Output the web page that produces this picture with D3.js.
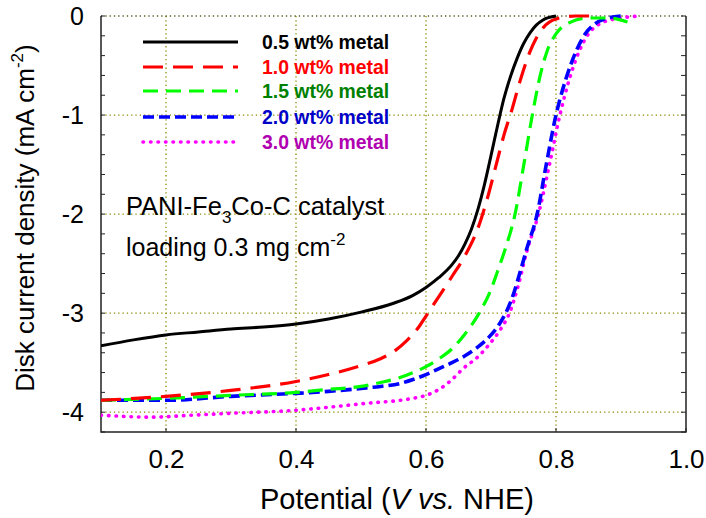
<!DOCTYPE html>
<html>
<head>
<meta charset="utf-8">
<script src="https://cdn.jsdelivr.net/npm/d3@7"></script>
<style>
  body { margin: 0; background: #fff; }
  text { font-family: "Liberation Sans", Arial, sans-serif; }
</style>
</head>
<body>
<div id="chart"></div>
<script>
// Series data: [potential (V vs NHE), disk current density (mA cm-2)]
var metal05 = [[0.10,-3.33],[0.15,-3.27],[0.20,-3.22],[0.25,-3.19],[0.30,-3.16],[0.35,-3.14],[0.40,-3.11],[0.45,-3.06],[0.50,-2.99],[0.55,-2.90],[0.58,-2.82],[0.60,-2.74],[0.62,-2.64],[0.64,-2.51],[0.65,-2.42],[0.66,-2.30],[0.67,-2.15],[0.68,-1.95],[0.69,-1.70],[0.70,-1.41],[0.711,-1.08],[0.72,-0.83],[0.73,-0.61],[0.74,-0.43],[0.75,-0.28],[0.76,-0.17],[0.77,-0.09],[0.78,-0.04],[0.80,0.00]];
var metal10 = [[0.10,-3.88],[0.20,-3.84],[0.30,-3.78],[0.40,-3.69],[0.45,-3.62],[0.50,-3.53],[0.53,-3.46],[0.55,-3.39],[0.57,-3.28],[0.59,-3.13],[0.60,-3.03],[0.62,-2.83],[0.64,-2.63],[0.66,-2.42],[0.68,-2.14],[0.694,-1.85],[0.71,-1.45],[0.72,-1.20],[0.732,-0.95],[0.745,-0.65],[0.76,-0.36],[0.77,-0.22],[0.78,-0.12],[0.80,-0.03],[0.83,0.00],[0.86,0.00]];
var metal15 = [[0.10,-3.88],[0.20,-3.86],[0.30,-3.83],[0.40,-3.80],[0.45,-3.77],[0.50,-3.74],[0.53,-3.70],[0.56,-3.65],[0.58,-3.60],[0.60,-3.54],[0.62,-3.46],[0.64,-3.36],[0.66,-3.21],[0.68,-3.02],[0.70,-2.76],[0.71,-2.58],[0.722,-2.35],[0.737,-2.00],[0.75,-1.52],[0.763,-1.02],[0.775,-0.62],[0.786,-0.36],[0.80,-0.18],[0.82,-0.07],[0.85,-0.02],[0.88,-0.02],[0.91,-0.06]];
var metal20 = [[0.10,-3.88],[0.20,-3.88],[0.30,-3.84],[0.40,-3.81],[0.45,-3.79],[0.50,-3.76],[0.53,-3.74],[0.56,-3.71],[0.58,-3.67],[0.60,-3.62],[0.62,-3.56],[0.64,-3.50],[0.66,-3.43],[0.678,-3.35],[0.70,-3.22],[0.712,-3.12],[0.724,-2.98],[0.735,-2.80],[0.745,-2.58],[0.755,-2.35],[0.771,-2.00],[0.785,-1.50],[0.80,-1.00],[0.815,-0.64],[0.832,-0.34],[0.845,-0.18],[0.86,-0.08],[0.88,-0.02],[0.90,0.00]];
var metal30 = [[0.10,-4.03],[0.177,-4.05],[0.24,-4.03],[0.303,-4.01],[0.40,-3.98],[0.45,-3.95],[0.509,-3.91],[0.56,-3.88],[0.58,-3.86],[0.60,-3.83],[0.62,-3.77],[0.64,-3.67],[0.657,-3.56],[0.68,-3.44],[0.698,-3.31],[0.715,-3.16],[0.729,-2.99],[0.742,-2.72],[0.755,-2.38],[0.773,-2.00],[0.79,-1.50],[0.806,-1.00],[0.82,-0.65],[0.836,-0.35],[0.85,-0.18],[0.87,-0.07],[0.90,-0.02],[0.93,0.00]];

var seriesLabels = ["0.5 wt% metal", "1.0 wt% metal", "1.5 wt% metal", "2.0 wt% metal", "3.0 wt% metal"];
var xTicks = [0.2, 0.4, 0.6, 0.8, 1.0];
var yTicks = [0, -1, -2, -3, -4];

// Series styles
var styles = [
  {line: "#000000", text: "#000000", dash: null, width: 3, cap: "butt"},
  {line: "#ff0000", text: "#ff0000", dash: "20,10", width: 3.2, cap: "butt"},
  {line: "#00ff00", text: "#008000", dash: "15,8", width: 3.2, cap: "butt"},
  {line: "#0000ff", text: "#0000c8", dash: "11,5", width: 3.6, cap: "butt"},
  {line: "#ff00ff", text: "#b000b0", dash: "0.5,7", width: 3.6, cap: "round"}
];
var allSeries = [metal05, metal10, metal15, metal20, metal30];

// Define SVG
var svgWidth = 706;
var svgHeight = 518;

var margin = {top: 16, right: 20, bottom: 86, left: 101};
var chartWidth = svgWidth - margin.left - margin.right;
var chartHeight = svgHeight - margin.top - margin.bottom;

var svg = d3.select("#chart")
  .append("svg")
  .attr("width", svgWidth)
  .attr("height", svgHeight);

var chartGroup = svg.append("g")
  .attr("transform", `translate(${margin.left}, ${margin.top})`);

// Scales
var xScale = d3.scaleLinear().domain([0.1, 1.0]).range([0, chartWidth]);
var yScale = d3.scaleLinear().domain([-4.2, 0]).range([chartHeight, 0]);

// Dotted grid
var gridColor = "#8a8a00";
chartGroup.selectAll("line.xgrid")
  .data(xTicks.filter(d => d < 1.0))
  .enter().append("line")
  .attr("x1", d => xScale(d)).attr("x2", d => xScale(d))
  .attr("y1", 0).attr("y2", chartHeight)
  .attr("stroke", gridColor)
  .attr("stroke-width", 1.3)
  .attr("stroke-dasharray", "1.3,3");

chartGroup.selectAll("line.ygrid")
  .data(yTicks)
  .enter().append("line")
  .attr("x1", 0).attr("x2", chartWidth)
  .attr("y1", d => yScale(d)).attr("y2", d => yScale(d))
  .attr("stroke", d => d === 0 ? "#5a5a20" : gridColor)
  .attr("stroke-width", d => d === 0 ? 1.6 : 1.3)
  .attr("stroke-dasharray", "1.3,3");

// Axes (labels only, ticks drawn inward below)
var fmtY = d => d === 0 ? "0" : "-" + Math.abs(d);
chartGroup.append("g")
  .attr("transform", `translate(0, ${chartHeight})`)
  .call(d3.axisBottom(xScale).tickValues(xTicks).tickSize(0).tickFormat(d3.format(".1f")).tickPadding(18))
  .call(g => g.select(".domain").remove())
  .call(g => g.selectAll("text").attr("font-size", 26).attr("fill", "#000")
    .attr("font-family", "'Liberation Sans', Arial, sans-serif"));

chartGroup.append("g")
  .call(d3.axisLeft(yScale).tickValues(yTicks).tickSize(0).tickFormat(fmtY).tickPadding(17))
  .call(g => g.select(".domain").remove())
  .call(g => g.selectAll("text").attr("font-size", 25).attr("fill", "#000")
    .attr("font-family", "'Liberation Sans', Arial, sans-serif"));

// Minor ticks on left and right
var minorY = d3.range(-4.2, 0.01, 0.2);
chartGroup.selectAll("line.ltick")
  .data(minorY)
  .enter().append("line")
  .attr("x1", 0).attr("x2", 4)
  .attr("y1", d => yScale(d)).attr("y2", d => yScale(d))
  .attr("stroke", "#222").attr("stroke-width", 1);
chartGroup.selectAll("line.rtick")
  .data(minorY)
  .enter().append("line")
  .attr("x1", chartWidth - 5).attr("x2", chartWidth)
  .attr("y1", d => yScale(d)).attr("y2", d => yScale(d))
  .attr("stroke", "#222").attr("stroke-width", 1);
chartGroup.selectAll("line.btick")
  .data(xTicks)
  .enter().append("line")
  .attr("x1", d => xScale(d)).attr("x2", d => xScale(d))
  .attr("y1", chartHeight - 4).attr("y2", chartHeight)
  .attr("stroke", "#222").attr("stroke-width", 1);

// Frame (left, bottom, right)
chartGroup.append("path")
  .attr("d", `M0,0V${chartHeight}H${chartWidth}V0`)
  .attr("fill", "none")
  .attr("stroke", "#222")
  .attr("stroke-width", 1.5);

// Curves
var line = d3.line()
  .x(d => xScale(d[0]))
  .y(d => yScale(d[1]))
  .curve(d3.curveMonotoneX);

chartGroup.append("clipPath").attr("id", "plotclip")
  .append("rect").attr("x", 0).attr("y", -3).attr("width", chartWidth).attr("height", chartHeight + 3);

allSeries.slice().reverse().forEach(function(data, i) {
  var s = styles[allSeries.length - 1 - i];
  chartGroup.append("path")
    .datum(data)
    .attr("clip-path", "url(#plotclip)")
    .attr("d", line)
    .attr("fill", "none")
    .attr("stroke", s.line)
    .attr("stroke-width", s.width)
    .attr("stroke-linecap", s.cap)
    .attr("stroke-dasharray", s.dash);
});

// Legend
var legendRows = [42, 67, 91, 117, 142];
var legend = svg.append("g");
seriesLabels.forEach(function(label, i) {
  var s = styles[i];
  legend.append("line")
    .attr("x1", 143).attr("x2", 238)
    .attr("y1", legendRows[i]).attr("y2", legendRows[i])
    .attr("stroke", s.line)
    .attr("stroke-width", s.width)
    .attr("stroke-linecap", s.cap)
    .attr("stroke-dasharray", s.dash);
  legend.append("text")
    .attr("x", 262)
    .attr("y", legendRows[i] + 7)
    .attr("font-size", 19.4)
    .attr("font-weight", "bold")
    .attr("fill", s.text)
    .text(label);
});

// Annotation
var note1 = svg.append("text").attr("x", 126).attr("y", 215).attr("font-size", 25.5).attr("fill", "#000");
note1.append("tspan").text("PANI-Fe");
note1.append("tspan").attr("font-size", 17).attr("dy", 8).text("3");
note1.append("tspan").attr("dy", -8).text("Co-C catalyst");

var note2 = svg.append("text").attr("x", 126).attr("y", 256).attr("font-size", 25).attr("fill", "#000");
note2.append("tspan").text("loading 0.3 mg cm");
note2.append("tspan").attr("font-size", 17).attr("dy", -11).text("-2");

// X axis title
var xTitle = svg.append("text")
  .attr("x", 397)
  .attr("y", 509)
  .attr("text-anchor", "middle")
  .attr("font-size", 29)
  .attr("fill", "#000");
xTitle.append("tspan").text("Potential (");
xTitle.append("tspan").attr("font-style", "italic").text("V vs.");
xTitle.append("tspan").text(" NHE)");

// Y axis title
var yTitle = svg.append("text")
  .attr("transform", "rotate(-90)")
  .attr("x", -218)
  .attr("y", 34)
  .attr("text-anchor", "middle")
  .attr("font-size", 26)
  .attr("fill", "#000");
yTitle.append("tspan").text("Disk current density (mA cm");
yTitle.append("tspan").attr("font-size", 17).attr("dy", -11).text("-2");
yTitle.append("tspan").attr("dy", 11).text(")");
</script>
</body>
</html>
